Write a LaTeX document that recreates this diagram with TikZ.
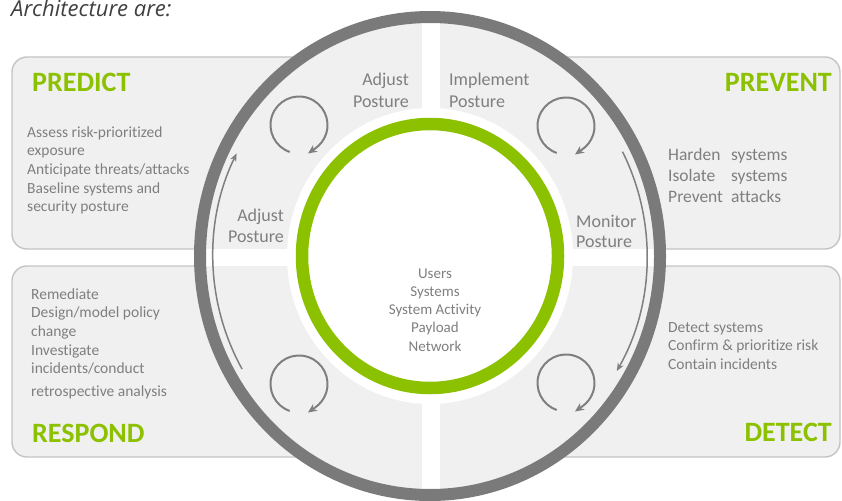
\documentclass[tikz,border=0pt]{standalone}
\usepackage{fontspec}
\setmainfont{Carlito}[Ligatures=NoCommon]
\newfontfamily\titlefont{Open Sans}
\usetikzlibrary{arrows.meta}

\definecolor{leaf}{RGB}{140,193,0}
\definecolor{ringgray}{RGB}{122,122,122}
\definecolor{inkgray}{RGB}{127,127,127}
\definecolor{panel}{RGB}{240,240,240}
\definecolor{panelline}{RGB}{196,196,196}
\definecolor{titleink}{RGB}{64,64,64}

% stacked lines whose baseline is the first line
\newcommand{\stackL}[1]{\begin{tabular}[t]{@{}l@{}}#1\end{tabular}}
\newcommand{\stackR}[1]{\begin{tabular}[t]{@{}r@{}}#1\end{tabular}}
\newcommand{\stackC}[1]{\begin{tabular}[t]{@{}c@{}}#1\end{tabular}}

\tikzset{
  panelbox/.style={fill=panel, draw=panelline, line width=1.4pt, rounded corners=15pt},
  heading/.style={inner sep=0pt, text=leaf, font=\fontsize{28}{30}\selectfont\bfseries},
  bodytext/.style={inner sep=0pt, text=inkgray, font=\fontsize{15.5}{18.7}\selectfont},
  bigtext/.style={inner sep=0pt, text=inkgray, font=\fontsize{17.5}{21}\selectfont},
  phase/.style={inner sep=0pt, text=inkgray, font=\fontsize{18}{21.5}\selectfont},
  cycle arrow/.style={draw=inkgray, line width=2pt, -{Stealth[length=9pt,width=8pt]}},
  flow arrow/.style={draw=inkgray, line width=1.5pt, -{Stealth[length=8pt,width=6.5pt]}},
}

\begin{document}
\begin{tikzpicture}[x=1pt,y=-1pt]
\useasboundingbox (0,0) rectangle (842,500);
\begin{scope}
\clip (0,0) rectangle (842,500);

% four quadrant panels
\path[panelbox] (12,57) rectangle (440,249);
\path[panelbox] (422,57) rectangle (840,249);
\path[panelbox] (12,266) rectangle (440,457);
\path[panelbox] (422,266) rectangle (840,457);

% interior of the outer ring, split by a white cross
\fill[panel] (430,256) ellipse [x radius=230, y radius=239];
\begin{scope}
  \clip (430,256) ellipse [x radius=230, y radius=239];
  \fill[white] (422,0) rectangle (440,500);
  \fill[white] (0,249) rectangle (842,266);
\end{scope}

% white core with the green ring
\fill[white] (430,256) ellipse [x radius=143, y radius=148];
\draw[leaf, line width=12.5pt] (430,256) ellipse [x radius=128, y radius=132];

% outer grey ring
\draw[ringgray, line width=12pt] (430,256) ellipse [x radius=230, y radius=239];

% long arcs inside the ring
\draw[flow arrow] (430,256) ++(150:217 and 226)
  arc[start angle=150, end angle=207, x radius=217, y radius=226];
\draw[flow arrow] (430,256) ++(-27.5:217 and 226)
  arc[start angle=-27.5, end angle=30.6, x radius=217, y radius=226];

% small cycle arrows in each quadrant
\foreach \cx/\cy in {299/125, 566/126, 299/384, 566/383}{
  \draw[cycle arrow] (\cx,\cy) ++(-251:28.5)
    arc[start angle=-251, end angle=55, radius=28.5] -- ++(145:9);
}

% title, cut by the top edge
\node[anchor=base west, inner sep=0pt, text=titleink,
      font=\titlefont\itshape\fontsize{22}{26}\selectfont] (title) at (11,17) {Architecture are:};
\end{scope}

% headings
\node[heading, anchor=base west] (predict) at (32,92) {PREDICT};
\node[heading, anchor=base east] (prevent) at (832,92) {PREVENT};
\node[heading, anchor=base west] (respond) at (32,442) {RESPOND};
\node[heading, anchor=base east] (detect) at (832,441) {DETECT};

% quadrant lists
\node[bodytext, anchor=base west] (predict-list) at (27,137)
  {\stackL{Assess risk-prioritized\\exposure\\Anticipate threats/attacks\\Baseline systems and\\security posture}};
\node[bigtext, anchor=base west] (prevent-list) at (668,160)
  {\stackL{\makebox[63pt][l]{Harden}systems\\\makebox[63pt][l]{Isolate}systems\\\makebox[63pt][l]{Prevent}attacks}};
\node[bodytext, anchor=base west] (respond-list) at (31,299)
  {\stackL{Remediate\\Design/model policy\\change\\Investigate\\incidents/conduct\\[4pt]retrospective analysis}};
\node[bodytext, anchor=base west] (detect-list) at (668,332)
  {\stackL{Detect systems\\Confirm \& prioritize risk\\Contain incidents}};

% core
\node[bodytext, font=\fontsize{15}{18.3}\selectfont, anchor=base] (core) at (435,278)
  {\stackC{Users\\Systems\\System Activity\\Payload\\Network}};

% posture labels
\node[phase, anchor=base east] (adjust-top) at (409,86) {\stackR{Adjust\\Posture}};
\node[phase, anchor=base west] (implement) at (449,86) {\stackL{Implement\\Posture}};
\node[phase, anchor=base east] (adjust-side) at (284,221) {\stackR{Adjust\\Posture}};
\node[phase, anchor=base west, font=\fontsize{18}{20.5}\selectfont] (monitor) at (576,227) {\stackL{Monitor\\Posture}};
\end{tikzpicture}
\end{document}
